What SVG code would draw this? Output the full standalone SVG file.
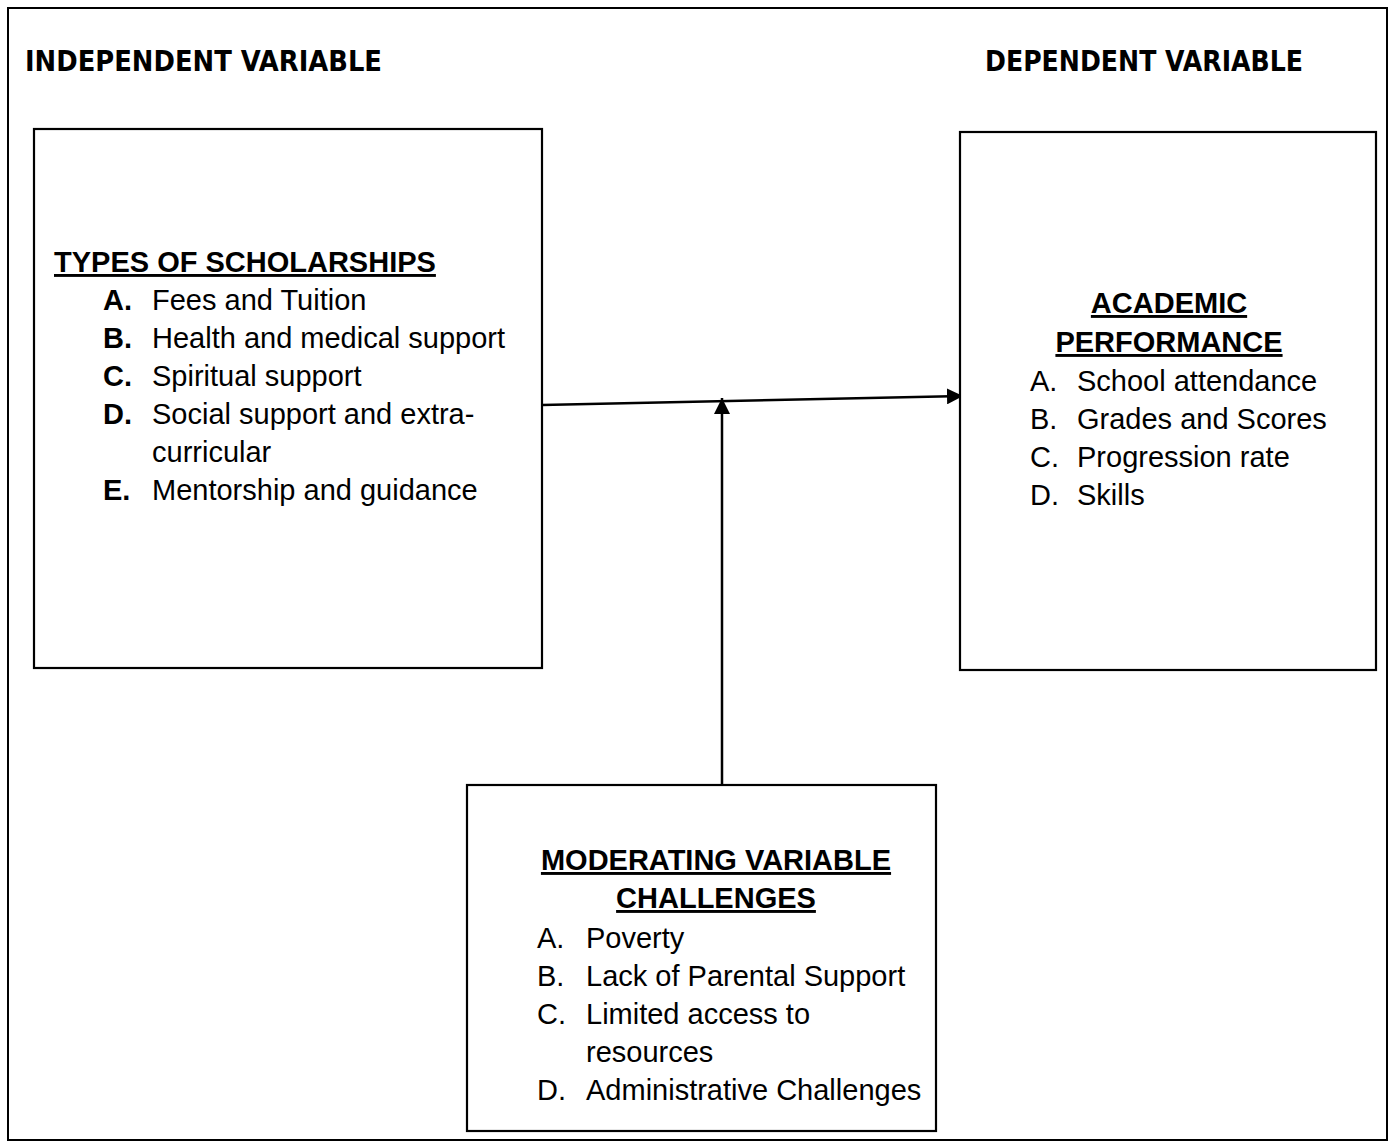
<svg xmlns="http://www.w3.org/2000/svg" width="1394" height="1144" viewBox="0 0 1394 1144">
<style>
.frame{fill:#fff;stroke:#000;stroke-width:2}
.box{fill:#fff;stroke:#000;stroke-width:2.2}
.hdr{font-family:"DejaVu Sans Condensed","DejaVu Sans",sans-serif;font-weight:bold;font-size:29px;fill:#000}
.ttl{font-family:"Liberation Sans",Arial,sans-serif;font-weight:bold;font-size:29px;fill:#000;text-decoration:underline}
.it{font-family:"Liberation Sans",Arial,sans-serif;font-size:29px;fill:#000}
.b{font-weight:bold}
.conn{stroke:#000;stroke-width:2.5;fill:none}
</style>
<defs>
<marker id="ah" viewBox="0 0 16 16" refX="16" refY="8" markerWidth="16" markerHeight="16" markerUnits="userSpaceOnUse" orient="auto">
<path d="M0,0 L16,8 L0,16 z" fill="#000"/>
</marker>
</defs>
<rect class="frame" x="8" y="8" width="1379" height="1132"/>
<text class="hdr" x="25" y="71" textLength="357" lengthAdjust="spacingAndGlyphs">INDEPENDENT VARIABLE</text>
<text class="hdr" x="985" y="71" textLength="318" lengthAdjust="spacingAndGlyphs">DEPENDENT VARIABLE</text>
<g id="connectors">
<line class="conn" x1="542" y1="405" x2="963" y2="396" marker-end="url(#ah)"/>
<line class="conn" x1="722" y1="785" x2="722" y2="398" marker-end="url(#ah)"/>
</g>
<g id="types-of-scholarships">
<rect class="box" x="34" y="129" width="508" height="539"/>
<text class="ttl" x="54" y="272">TYPES OF SCHOLARSHIPS</text>
<text class="it" y="310"><tspan class="b" x="103">A.</tspan><tspan x="152">Fees and Tuition</tspan></text>
<text class="it" y="348"><tspan class="b" x="103">B.</tspan><tspan x="152">Health and medical support</tspan></text>
<text class="it" y="386"><tspan class="b" x="103">C.</tspan><tspan x="152">Spiritual support</tspan></text>
<text class="it" y="424"><tspan class="b" x="103">D.</tspan><tspan x="152">Social support and extra-</tspan></text>
<text class="it" x="152" y="462">curricular</text>
<text class="it" y="500"><tspan class="b" x="103">E.</tspan><tspan x="152">Mentorship and guidance</tspan></text>
</g>
<g id="academic-performance">
<rect class="box" x="960" y="132" width="416" height="538"/>
<text class="ttl" x="1169" y="313" text-anchor="middle">ACADEMIC</text>
<text class="ttl" x="1169" y="352" text-anchor="middle">PERFORMANCE</text>
<text class="it" y="391"><tspan x="1030">A.</tspan><tspan x="1077">School attendance</tspan></text>
<text class="it" y="429"><tspan x="1030">B.</tspan><tspan x="1077">Grades and Scores</tspan></text>
<text class="it" y="467"><tspan x="1030">C.</tspan><tspan x="1077">Progression rate</tspan></text>
<text class="it" y="505"><tspan x="1030">D.</tspan><tspan x="1077">Skills</tspan></text>
</g>
<g id="moderating-variable">
<rect class="box" x="467" y="785" width="469" height="346"/>
<text class="ttl" x="716" y="870" text-anchor="middle">MODERATING VARIABLE</text>
<text class="ttl" x="716" y="908" text-anchor="middle">CHALLENGES</text>
<text class="it" y="948"><tspan x="537">A.</tspan><tspan x="586">Poverty</tspan></text>
<text class="it" y="986"><tspan x="537">B.</tspan><tspan x="586">Lack of Parental Support</tspan></text>
<text class="it" y="1024"><tspan x="537">C.</tspan><tspan x="586">Limited access to</tspan></text>
<text class="it" x="586" y="1062">resources</text>
<text class="it" y="1100"><tspan x="537">D.</tspan><tspan x="586">Administrative Challenges</tspan></text>
</g>
</svg>
